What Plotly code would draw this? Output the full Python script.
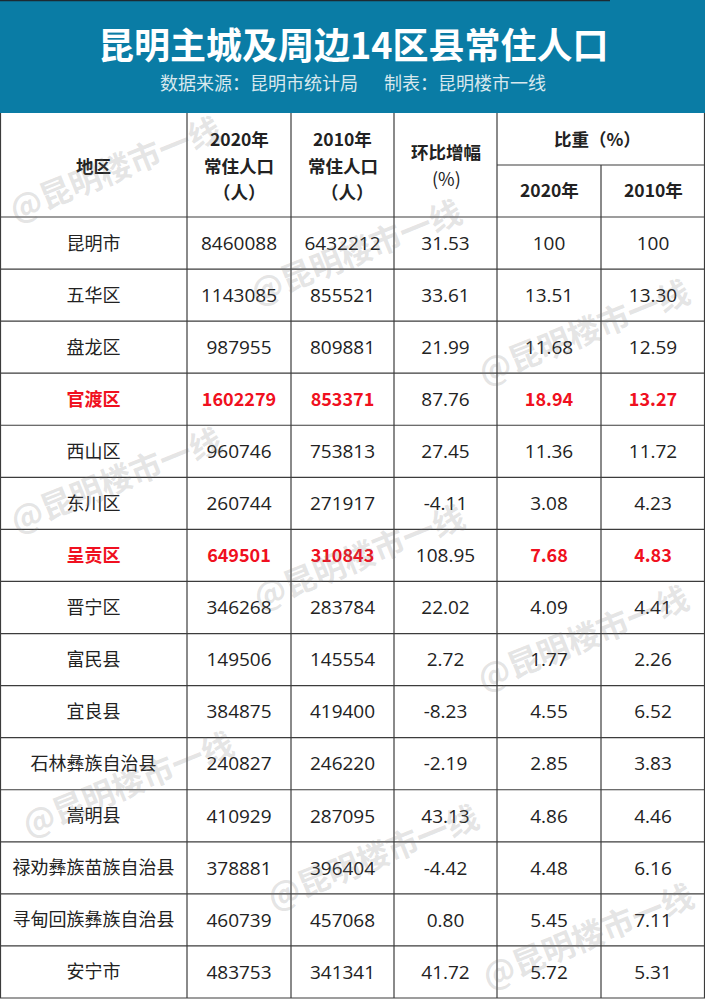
import plotly.graph_objects as go

# data
regions = ["昆明市", "五华区", "盘龙区", "官渡区", "西山区", "东川区", "呈贡区", "晋宁区", "富民县", "宜良县",
           "石林彝族自治县", "嵩明县", "禄劝彝族苗族自治县", "寻甸回族彝族自治县", "安宁市"]
pop_2020 = [8460088, 1143085, 987955, 1602279, 960746, 260744, 649501, 346268, 149506, 384875,
            240827, 410929, 378881, 460739, 483753]
pop_2010 = [6432212, 855521, 809881, 853371, 753813, 271917, 310843, 283784, 145554, 419400,
            246220, 287095, 396404, 457068, 341341]
growth = ["31.53", "33.61", "21.99", "87.76", "27.45", "-4.11", "108.95", "22.02", "2.72", "-8.23",
          "-2.19", "43.13", "-4.42", "0.80", "41.72"]
share_2020 = ["100", "13.51", "11.68", "18.94", "11.36", "3.08", "7.68", "4.09", "1.77", "4.55",
              "2.85", "4.86", "4.48", "5.45", "5.72"]
share_2010 = ["100", "13.30", "12.59", "13.27", "11.72", "4.23", "4.83", "4.41", "2.26", "6.52",
              "3.83", "4.46", "6.16", "7.11", "5.31"]
highlighted = ["官渡区", "呈贡区"]

title = "昆明主城及周边14区县常住人口"
subtitle = "数据来源\uff1a昆明市统计局\u3000  制表\uff1a昆明楼市一线"
watermark = "@昆明楼市一线"
unit_people = "\uff08人\uff09"
share_head = "比重\uff08%\uff09"

FONT = "Noto Sans CJK SC"
DIGIT_FONT = "Open Sans"
W, H = 705, 1000
col_edges = [0, 187, 291, 394, 497, 601, 705]
band_bottom = 113
head_split = 165
head_bottom = 217
table_bottom = 998
text_shift = 2
line_color = "#3c3c3c"
text_color = "#222222"
red = "#f01020"


def py(y):
    return 1 - y / H


def px(x):
    return x / W


columns = [regions, pop_2020, pop_2010, growth, share_2020, share_2010]
bold_col = [True, True, True, False, True, True]

fig = go.Figure()
for c, col in enumerate(columns):
    texts, colors, sizes, fonts = [], [], [], []
    for r, v in zip(regions, col):
        hot = r in highlighted and bold_col[c]
        texts.append("<b>%s</b>" % v if hot else str(v))
        colors.append(red if hot else text_color)
        sizes.append(18 if hot or c == 0 else 19)
        fonts.append(FONT if hot or c == 0 else DIGIT_FONT)
    center = (col_edges[c] + col_edges[c + 1]) / 2
    fig.add_trace(go.Scatter(
        x=[center] * len(regions),
        y=regions,
        mode="text",
        text=texts,
        textposition="middle center",
        textfont=dict(family=fonts, size=sizes, color=colors),
        hoverinfo="skip",
    ))

line = dict(color=line_color, width=1.2)
shapes = [
    dict(type="rect", xref="paper", yref="paper", x0=0, x1=1, y0=py(band_bottom), y1=1,
         fillcolor="#0a7ca5", line_width=0, layer="above"),
    dict(type="line", xref="paper", yref="paper", x0=0, x1=px(610), y0=py(0.5), y1=py(0.5),
         line=dict(color="#1c2a33", width=1.5), layer="above"),
    dict(type="line", xref="paper", yref="paper", x0=px(col_edges[4]), x1=1,
         y0=py(head_split), y1=py(head_split), line=line),
]
for x in col_edges[1:6]:
    top = head_split if x == col_edges[5] else band_bottom
    shapes.append(dict(type="line", xref="paper", yref="paper", x0=px(x), x1=px(x),
                       y0=py(top), y1=py(table_bottom), line=line))
row_h = (table_bottom - head_bottom) / len(regions)
for i in range(len(regions) + 1):
    y = head_bottom + i * row_h
    shapes.append(dict(type="line", xref="paper", yref="paper", x0=0, x1=1,
                       y0=py(y), y1=py(y), line=line))
for x in [0.5, W - 0.5]:
    shapes.append(dict(type="line", xref="paper", yref="paper", x0=px(x), x1=px(x),
                       y0=py(band_bottom), y1=py(table_bottom), line=line))


def note(x, y, text, size, color=text_color, **kw):
    return dict(x=px(x), y=py(y), xref="paper", yref="paper", text=text, showarrow=False,
                xanchor="center", yanchor="middle", align="center",
                font=dict(family=FONT, size=size, color=color), **kw)


annotations = [
    note(353, 43, "<b>%s</b>" % title, 36, "white"),
    note(353, 82, subtitle, 18, "#d8e8ee"),
    note(93.5, 165, "<b>地区</b>", 17.5),
    note(239, 138, "<b>2020年</b>", 17.5),
    note(239, 165, "<b>常住人口</b>", 17.5),
    note(239, 192, "<b>%s</b>" % unit_people, 17.5),
    note(342.5, 138, "<b>2010年</b>", 17.5),
    note(342.5, 165, "<b>常住人口</b>", 17.5),
    note(347, 192, "<b>%s</b>" % unit_people, 17.5),
    note(445.5, 151, "<b>环比增幅</b>", 17.5),
    note(446, 178, "(%)", 18),
    note(597, 138, "<b>%s</b>" % share_head, 17.5),
    note(549, 190, "<b>2020年</b>", 17.5),
    note(653, 190, "<b>2010年</b>", 17.5),
]
# watermarks, centre x, centre y
for x, y in [(114, 167), (355, 250), (583, 330), (115, 478), (358, 555), (582, 636),
             (127, 782), (372, 855), (587, 934)]:
    annotations.append(note(x, y, "<b>%s</b>" % watermark, 32, "rgba(120,120,120,0.2)", textangle=-22))

fig.update_layout(
    width=W, height=H,
    margin=dict(l=0, r=0, t=0, b=0),
    paper_bgcolor="white",
    plot_bgcolor="white",
    showlegend=False,
    xaxis=dict(range=[0, W], visible=False, fixedrange=True),
    yaxis=dict(domain=[py(table_bottom + text_shift), py(head_bottom + text_shift)], type="category",
               categoryorder="array", categoryarray=regions,
               range=[len(regions) - 0.5, -0.5], visible=False, fixedrange=True),
    shapes=shapes,
    annotations=annotations,
)

fig.write_html("out.html", config=dict(displayModeBar=False),
               post_script="document.body.style.margin='0';")
